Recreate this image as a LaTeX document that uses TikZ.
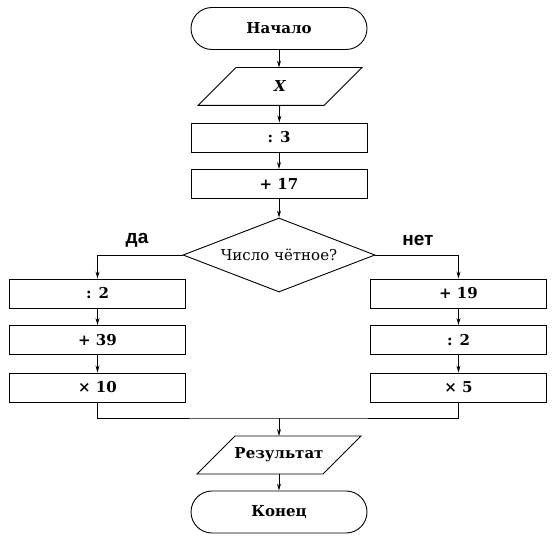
\documentclass[tikz,border=0pt]{standalone}
\usepackage{fontspec}
\setmainfont{DejaVu Serif}
\newfontfamily\yesnofont{Liberation Sans}
\usetikzlibrary{arrows.meta,shapes.geometric}

\begin{document}
\begin{tikzpicture}[x=1pt, y=-1pt, >={Stealth[length=7pt,width=4pt]},
            line width=0.9pt,
            box/.style={draw, minimum width=176pt, minimum height=29pt,
                        inner sep=0pt, font=\fontsize{15}{18}\selectfont\bfseries},
            term/.style={box, minimum height=42pt, rounded corners=21pt},
            io/.style={box, draw=none, minimum width=125pt, minimum height=37pt},
            ques/.style={draw, diamond, aspect=2.6, minimum width=192pt, minimum height=74pt,
                         inner sep=0pt, font=\fontsize{15}{18}\selectfont},
            yesno/.style={font=\yesnofont\fontsize{19}{22}\selectfont\bfseries}]

            \useasboundingbox (0,0) rectangle (560,545);

            % основная колонка
            \node[term] (start) at (279,28.5) {Начало};
            \node[io]   (inx)   at (280,86.5) {\itshape X};
            \node[box]  (div3)  at (279,137.5) {: 3};
            \node[box]  (add17) at (279,184) {+ 17};
            \node[ques] (even)  at (279,255) {Число чётное?};
            \node[yesno] (yes) at (137,240) {да};
            \node[yesno] (no)  at (418,240) {нет};

            % ветка «да»
            \node[box] (l1) at (97.5,293.5) {: 2};
            \node[box] (l2) at (97.5,340)   {+ 39};
            \node[box] (l3) at (97.5,387.5) {× 10};

            % ветка «нет»
            \node[box] (r1) at (458.5,293.5) {+ 19};
            \node[box] (r2) at (458.5,340)   {: 2};
            \node[box] (r3) at (458.5,387.5) {× 5};

            % вывод и конец
            \coordinate (join) at (279,418);
            \node[io]   (res)  at (279,455) {Результат};
            \node[term] (stop) at (279,512) {Конец};

            % параллелограммы ввода/вывода
            \foreach \n in {inx,res}
                \draw ([xshift=19pt]\n.north west) -- ([xshift=19pt]\n.north east)
                    -- ([xshift=-19pt]\n.south east) -- ([xshift=-19pt]\n.south west) -- cycle;

            % связи
            \draw[->] (start) -- (start |- inx.north);
            \draw[->] (inx) -- (div3);
            \draw[->] (div3) -- (add17);
            \draw[->] (add17) -- (even);
            \draw[->] (even.west) -| (l1.north);
            \draw[->] (even.east) -| (r1.north);
            \draw[->] (l1) -- (l2);
            \draw[->] (l2) -- (l3);
            \draw[->] (r1) -- (r2);
            \draw[->] (r2) -- (r3);
            \draw (l3.south) |- (join) -| (r3.south);
            \draw[->] (join) -- (res);
            \draw[->] (res) -- (stop);
        \end{tikzpicture}
\end{document}
